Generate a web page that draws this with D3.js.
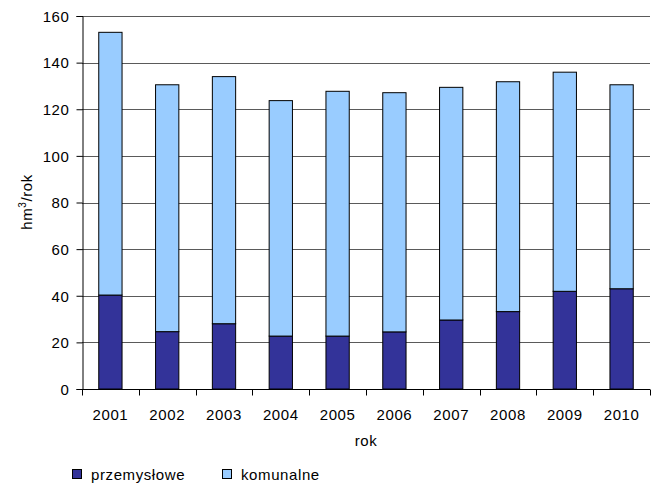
<!DOCTYPE html>
<html>
<head>
<meta charset="utf-8">
<script src="https://cdn.jsdelivr.net/npm/d3@7"></script>
<style>
  body { margin: 0; background: #fff; }
  text { font-family: "Liberation Sans", Arial, sans-serif; fill: #000; font-size: 15px; letter-spacing: 0.6px; }
</style>
</head>
<body>
<svg id="chart" width="659" height="485"></svg>
<script>
// data
var years = ["2001", "2002", "2003", "2004", "2005", "2006", "2007", "2008", "2009", "2010"];
var przemyslowe = [40.3, 24.6, 28.0, 22.7, 22.7, 24.5, 29.6, 33.2, 41.9, 43.0];
var komunalne = [112.7, 105.9, 106.0, 101.0, 105.0, 102.6, 99.8, 98.6, 94.0, 87.5];
var yTicks = [0, 20, 40, 60, 80, 100, 120, 140, 160];

var series = [
  { name: "przemysłowe", values: przemyslowe, color: "#333399" },
  { name: "komunalne", values: komunalne, color: "#99CCFF" }
];

var svg = d3.select("#chart");
var pLeft = 82, pRight = 650, pTop = 16, pBottom = 389;

var x = d3.scaleBand().domain(years).range([pLeft, pRight]).paddingInner(0.59).paddingOuter(0.295);
var xb = d3.scaleBand().domain(years).range([pLeft, pRight]);
var y = d3.scaleLinear().domain([0, 160]).range([pBottom, pTop]);

/*
gridlines */
svg.append("g").selectAll("line")
  .data(yTicks.slice(1))
  .enter().append("line")
  .attr("x1", pLeft).attr("x2", pRight)
  .attr("y1", function(d) { return Math.round(y(d)) + 0.5; })
  .attr("y2", function(d) { return Math.round(y(d)) + 0.5; })
  .attr("stroke", "#5a5a5a").attr("stroke-width", 1);

/*
stacked bars */
var stackData = years.map(function(yr, i) {
  return { year: yr, przemyslowe: przemyslowe[i], komunalne: komunalne[i] };
});
var stack = d3.stack().keys(["przemyslowe", "komunalne"])(stackData);

svg.append("g").selectAll("g")
  .data(stack)
  .enter().append("g")
  .attr("fill", function(d, i) { return series[i].color; })
  .selectAll("rect")
  .data(function(d) { return d; })
  .enter().append("rect")
  .attr("x", function(d) { return x(d.data.year); })
  .attr("width", x.bandwidth())
  .attr("y", function(d) { return y(d[1]); })
  .attr("height", function(d) { return y(d[0]) - y(d[1]); })
  .attr("stroke", "#000").attr("stroke-width", 1);

/*
axes */
var yAxis = d3.axisLeft(y).tickValues(yTicks).tickSize(6).tickPadding(7);
var gy = svg.append("g").attr("transform", "translate(" + (pLeft + 0.5) + ",0)").call(yAxis);
gy.attr("font-size", null).attr("font-family", null);
gy.selectAll("text").attr("dy", "0.35em");
gy.select(".domain").attr("stroke", "#000");

var xAxis = d3.axisBottom(xb).tickSize(0).tickPadding(20);
var gx = svg.append("g").attr("transform", "translate(0," + (pBottom + 0.5) + ")").call(xAxis);
gx.attr("font-size", null).attr("font-family", null);
gx.select(".domain").attr("d", "M" + pLeft + ",0H" + pRight);
// tick marks between categories
gx.selectAll(".sep")
  .data(years.concat(["end"]))
  .enter().append("line")
  .attr("class", "sep")
  .attr("x1", function(d, i) { return Math.round(pLeft + i * xb.bandwidth()) + 0.5; })
  .attr("x2", function(d, i) { return Math.round(pLeft + i * xb.bandwidth()) + 0.5; })
  .attr("y1", 0).attr("y2", 6)
  .attr("stroke", "#000");

/*
axis titles */
svg.append("text").attr("x", 366).attr("y", 446)
  .attr("text-anchor", "middle").text("rok");

var yl = svg.append("text")
  .attr("transform", "translate(32,202) rotate(-90)")
  .attr("text-anchor", "middle");
yl.append("tspan").text("hm");
yl.append("tspan").attr("dy", -6).style("font-size", "10px").text("3");
yl.append("tspan").attr("dy", 6).text("/rok");

/*
legend */
var legX = [72, 222];
var leg = svg.append("g").selectAll("g")
  .data(series)
  .enter().append("g")
  .attr("transform", function(d, i) { return "translate(" + legX[i] + ",469)"; });
leg.append("rect").attr("x", 0.5).attr("y", 0.5).attr("width", 9).attr("height", 9)
  .attr("fill", function(d) { return d.color; }).attr("stroke", "#000");
leg.append("text").attr("x", 19).attr("y", 10.5)
  .text(function(d) { return d.name; });
</script>
</body>
</html>
